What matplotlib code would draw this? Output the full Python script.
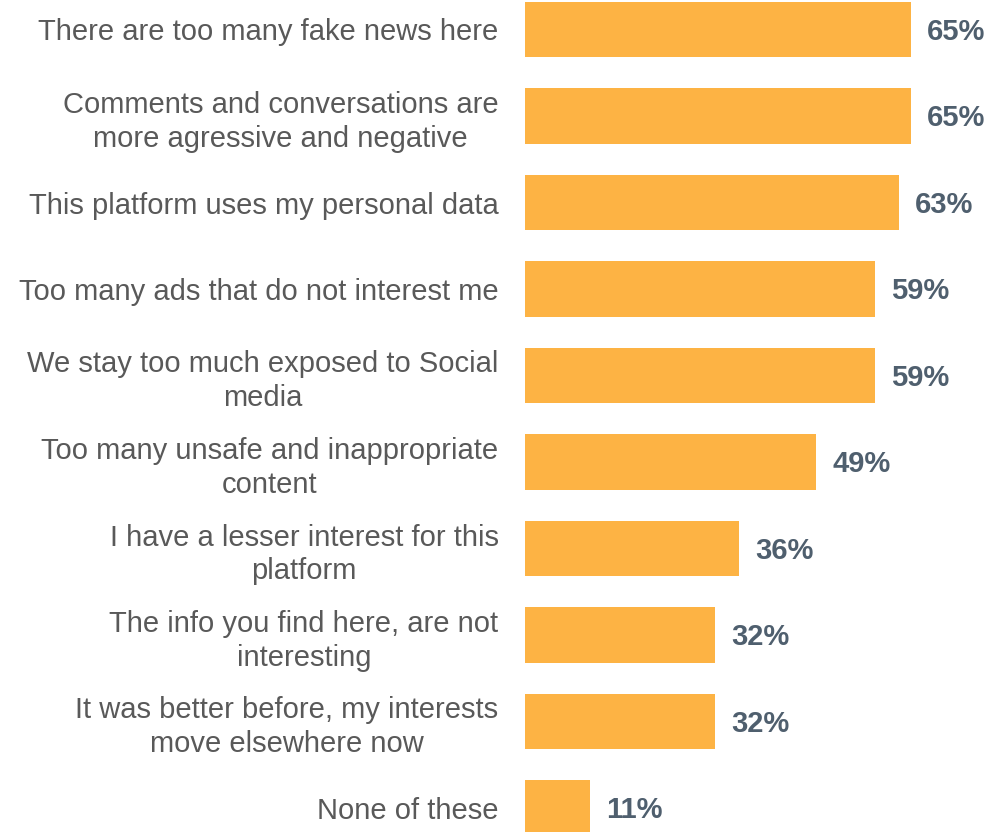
import matplotlib
matplotlib.use("Agg")
import matplotlib.pyplot as plt

categories = [
    "There are too many fake news here",
    "Comments and conversations are\nmore agressive and negative",
    "This platform uses my personal data",
    "Too many ads that do not interest me",
    "We stay too much exposed to Social\nmedia",
    "Too many unsafe and inappropriate\ncontent",
    "I have a lesser interest for this\nplatform",
    "The info you find here, are not\ninteresting",
    "It was better before, my interests\nmove elsewhere now",
    "None of these",
]
values = [65, 65, 63, 59, 59, 49, 36, 32, 32, 11]
value_labels = ["65%", "65%", "63%", "59%", "59%", "49%", "36%", "32%", "32%", "11%"]

W, H = 992, 832
fig = plt.figure(figsize=(W / 100, H / 100), dpi=100)
ax = fig.add_axes([525 / W, 0, 1 - 525 / W, 1])

pos = list(range(len(categories)))
ax.barh(pos, values, height=0.636, color="#FDB344", edgecolor="none")
ax.set_xlim(0, (W - 525) / 5.94)
ax.set_ylim((H - 29.5) / 86.5, -29.5 / 86.5)

ax.set_yticks(pos)
ax.set_yticklabels(categories, fontsize=21, color="#595959",
                   family=["Liberation Sans", "DejaVu Sans"],
                   multialignment="center", linespacing=1.26)
ax.tick_params(axis="y", length=0, pad=19)
ax.set_xticks([])
for s in ax.spines.values():
    s.set_visible(False)

for p, v, lab in zip(pos, values, value_labels):
    ax.annotate(lab, xy=(v, p), xytext=(11.5, -1.5), textcoords="offset points",
                ha="left", va="center", fontsize=21, fontweight="bold",
                color="#4F5F6E", family=["Liberation Sans", "DejaVu Sans"])

fig.savefig("out.png", dpi=100)
